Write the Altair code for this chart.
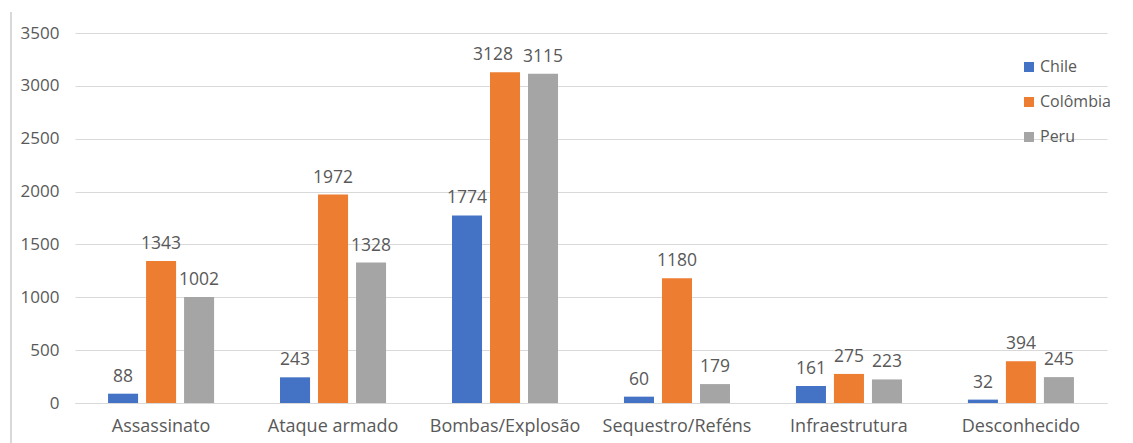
import altair as alt
import pandas as pd

categories = ["Assassinato", "Ataque armado", "Bombas/Explosão",
              "Sequestro/Reféns", "Infraestrutura", "Desconhecido"]
countries = ["Chile", "Colômbia", "Peru"]
chile = [88, 243, 1774, 60, 161, 32]
colombia = [1343, 1972, 3128, 1180, 275, 394]
peru = [1002, 1328, 3115, 179, 223, 245]
colors = ["#4472C4", "#ED7D31", "#A5A5A5"]

rows = []
for name, series in zip(countries, [chile, colombia, peru]):
    for cat, v in zip(categories, series):
        rows.append({"categoria": cat, "pais": name, "valor": v})
df = pd.DataFrame(rows)

FONT = "Open Sans"
TXT = "#595959"

x = alt.X("categoria:N", sort=categories, title=None,
          scale=alt.Scale(paddingInner=0.337, paddingOuter=0.169),
          axis=alt.Axis(labelAngle=0, labelFont=FONT, labelFontSize=18,
                        labelColor=TXT, labelPadding=14, ticks=False,
                        domainColor="#D9D9D9", domainWidth=1))
xo = alt.XOffset("pais:N", sort=countries,
                 scale=alt.Scale(paddingInner=0.21, paddingOuter=0.105))
y = alt.Y("valor:Q", title=None,
          scale=alt.Scale(domain=[0, 3500]),
          axis=alt.Axis(values=list(range(0, 3501, 500)), format="d",
                        labelFont=FONT, labelFontSize=17, labelColor=TXT,
                        labelPadding=16, ticks=False, domain=False,
                        gridColor="#D9D9D9", gridWidth=1))
color = alt.Color("pais:N", sort=countries, title=None,
                  scale=alt.Scale(domain=countries, range=colors),
                  legend=alt.Legend(orient="none", legendX=946, legendY=26,
                                    symbolType="square", symbolSize=100,
                                    symbolStrokeWidth=0, labelFont=FONT,
                                    labelFontSize=16, labelColor=TXT,
                                    rowPadding=19, labelOffset=3))

base = alt.Chart(df).encode(x=x, xOffset=xo, y=y)

bars = base.mark_bar().encode(color=color)

# value labels; the tallest pair sits side by side, so the left one is nudged
crowded = (alt.datum.categoria == "Bombas/Explosão") & (alt.datum.pais == "Colômbia")
text_style = dict(baseline="bottom", dy=-8, font=FONT, fontSize=17.5, color=TXT)
labels = base.mark_text(**text_style).encode(text="valor:Q").transform_filter(~crowded)
labels_shifted = base.mark_text(dx=-12, **text_style).encode(
    text="valor:Q").transform_filter(crowded)

# thin frame line at the left edge of the figure
frame = alt.Chart(pd.DataFrame({"v": [0]})).mark_rule(
    color="#D9D9D9", strokeWidth=2, clip=False
).encode(x=alt.value(-64), y=alt.value(-21), y2=alt.value(410))

chart = alt.layer(frame, bars, labels, labels_shifted).properties(
    width=1032, height=370,
    background="white",
    autosize=alt.AutoSizeParams(type="none"),
    padding={"left": 75, "top": 33, "right": 26, "bottom": 40},
).configure_view(stroke=None)

chart.save("out.html", embed_options={"renderer": "svg", "actions": False})
